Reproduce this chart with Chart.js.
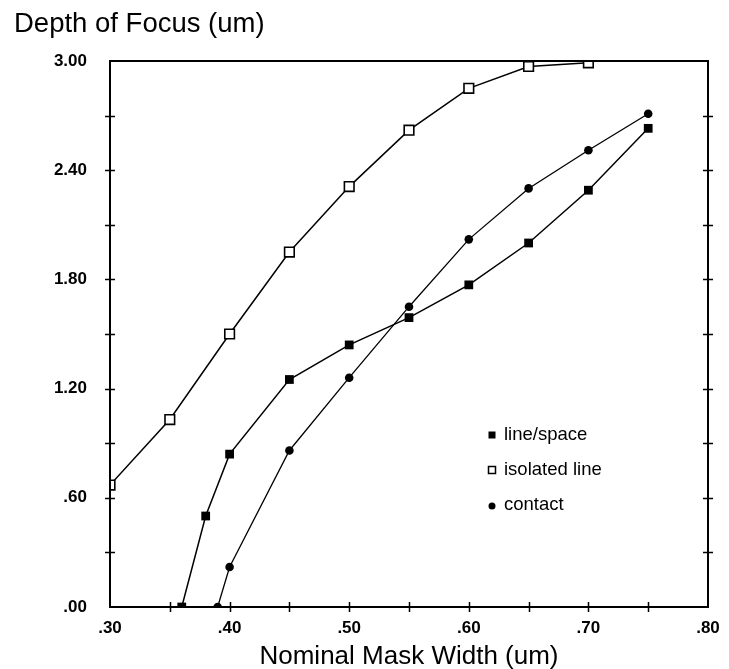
<!DOCTYPE html>
<html>
<head>
<meta charset="utf-8">
<script src="https://cdn.jsdelivr.net/npm/chart.js@4.4.1/dist/chart.umd.min.js"></script>
<style>
  body { margin: 0; background: #fff; }
  #wrap { width: 729px; height: 669px; }
</style>
</head>
<body>
<div id="wrap"><canvas id="myChart" width="729" height="669"></canvas></div>
<script>
// values
const widthIso = [0.30, 0.35, 0.40, 0.45, 0.50, 0.55, 0.60, 0.65, 0.70];
const dofIso = [0.67, 1.03, 1.50, 1.95, 2.31, 2.62, 2.85, 2.97, 2.99];

const widthLS = [0.36, 0.38, 0.40, 0.45, 0.50, 0.55, 0.60, 0.65, 0.70, 0.75];
const dofLS = [0.00, 0.50, 0.84, 1.25, 1.44, 1.59, 1.77, 2.00, 2.29, 2.63];

const widthContact = [0.39, 0.40, 0.45, 0.50, 0.55, 0.60, 0.65, 0.70, 0.75];
const dofContact = [0.00, 0.22, 0.86, 1.26, 1.65, 2.02, 2.30, 2.51, 2.71];

const xLabels = [0.30, 0.40, 0.50, 0.60, 0.70, 0.80];
const yLabels = [0.00, 0.60, 1.20, 1.80, 2.40, 3.00];
const xMinor = [0.35, 0.40, 0.45, 0.50, 0.55, 0.60, 0.65, 0.70, 0.75];
const yMinor = [0.30, 0.60, 0.90, 1.20, 1.50, 1.80, 2.10, 2.40, 2.70];

const yTitle = "Depth of Focus (um)";
const xTitle = "Nominal Mask Width (um)";
const seriesNames = ["line/space", "isolated line", "contact"];

const fontFam = '"Liberation Sans", Arial, Helvetica, sans-serif';

function pts(xs, ys) {
    return xs.map((x, i) => ({x: x, y: ys[i]}));
}

function fmt(v) {
    return v.toFixed(2).replace(/^0/, "");
}

// frame, cross ticks, titles and legend
const extras = {
    id: "extras",
    afterDatasetsDraw(chart) {
        const ctx = chart.ctx;
        const a = chart.chartArea;
        const xs = chart.scales.x;
        const ys = chart.scales.y;
        ctx.save();
        ctx.strokeStyle = "#000";
        ctx.lineWidth = 2;
        ctx.strokeRect(a.left, a.top, a.right - a.left, a.bottom - a.top);

        ctx.lineWidth = 1.5;
        ctx.beginPath();
        yMinor.forEach(v => {
            const py = Math.round(ys.getPixelForValue(v)) + 0.5;
            ctx.moveTo(a.left - 5, py); ctx.lineTo(a.left + 5, py);
            ctx.moveTo(a.right - 5, py); ctx.lineTo(a.right + 5, py);
        });
        xMinor.forEach(v => {
            const px = Math.round(xs.getPixelForValue(v)) + 0.5;
            ctx.moveTo(px, a.bottom - 5); ctx.lineTo(px, a.bottom + 5);
        });
        ctx.stroke();

        ctx.fillStyle = "#000";
        ctx.textBaseline = "alphabetic";
        ctx.textAlign = "left";
        ctx.font = "27.5px " + fontFam;
        ctx.fillText(yTitle, 14, 32);
        ctx.textAlign = "center";
        ctx.font = "26px " + fontFam;
        ctx.fillText(xTitle, (a.left + a.right) / 2, 664);

        // legend
        const lx = 492;
        const rows = [435, 470, 505];
        ctx.textAlign = "left";
        ctx.textBaseline = "middle";
        ctx.font = "18.5px " + fontFam;
        rows.forEach((ry, i) => {
            ctx.fillStyle = "#000";
            if (i === 0) {
                ctx.fillRect(lx - 3.5, ry - 3.5, 7, 7);
            } else if (i === 1) {
                ctx.lineWidth = 1.5;
                ctx.strokeRect(lx - 3.5, ry - 3.5, 7, 7);
            } else {
                ctx.beginPath();
                ctx.arc(lx, ry + 1, 3.5, 0, Math.PI * 2);
                ctx.fill();
            }
            ctx.fillText(seriesNames[i], lx + 12, ry);
        });
        ctx.restore();
    }
};

const config = {
    type: "scatter",
    data: {
        datasets: [
            {
                label: seriesNames[0],
                data: pts(widthLS, dofLS),
                showLine: true,
                borderColor: "#000",
                borderWidth: 1.5,
                pointStyle: "rect",
                pointRadius: 6.2,
                pointBackgroundColor: "#000",
                pointBorderColor: "#000",
                pointBorderWidth: 0,
                clip: 0
            },
            {
                label: seriesNames[1],
                data: pts(widthIso, dofIso),
                showLine: true,
                borderColor: "#000",
                borderWidth: 1.5,
                pointStyle: "rect",
                pointRadius: 6.8,
                pointBackgroundColor: "#fff",
                pointBorderColor: "#000",
                pointBorderWidth: 1.6,
                clip: 0
            },
            {
                label: seriesNames[2],
                data: pts(widthContact, dofContact),
                showLine: true,
                borderColor: "#000",
                borderWidth: 1.3,
                pointStyle: "circle",
                pointRadius: 4.3,
                pointBackgroundColor: "#000",
                pointBorderColor: "#000",
                pointBorderWidth: 0,
                clip: 0
            }
        ]
    },
    options: {
        responsive: false,
        animation: false,
        layout: { padding: { left: 0, top: 61, right: 21, bottom: 0 } },
        plugins: {
            legend: { display: false },
            tooltip: { enabled: false }
        },
        scales: {
            x: {
                type: "linear",
                min: 0.30,
                max: 0.80,
                afterFit: s => { s.height = 62; },
                afterBuildTicks: s => { s.ticks = xLabels.map(v => ({value: v})); },
                grid: { display: false },
                border: { display: false },
                ticks: {
                    padding: 3,
                    color: "#000",
                    maxRotation: 0,
                    autoSkip: false,
                    font: { family: fontFam, size: 17, weight: "bold" },
                    callback: v => fmt(v)
                }
            },
            y: {
                type: "linear",
                min: 0,
                max: 3,
                afterFit: s => { s.width = 110; },
                afterBuildTicks: s => { s.ticks = yLabels.map(v => ({value: v})); },
                grid: { display: false },
                border: { display: false },
                ticks: {
                    padding: 15,
                    color: "#000",
                    autoSkip: false,
                    font: { family: fontFam, size: 17, weight: "bold" },
                    callback: v => fmt(v)
                }
            }
        }
    },
    plugins: [extras]
};

const myChartCanvas = document.querySelector("#myChart").getContext("2d");
window.myChart = new Chart(myChartCanvas, config);
</script>
</body>
</html>
